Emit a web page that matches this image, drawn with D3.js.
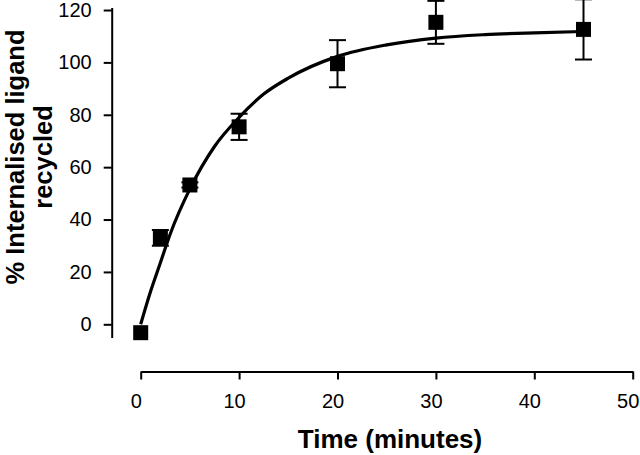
<!DOCTYPE html>
<html>
<head>
<meta charset="utf-8">
<script src="https://cdn.jsdelivr.net/npm/d3@7"></script>
<style>
  html, body { margin: 0; padding: 0; background: #fff; }
  svg { display: block; }
  text { font-family: "Liberation Sans", Arial, Helvetica, sans-serif; fill: #000; }
</style>
</head>
<body>
<svg id="chart" width="640" height="455"></svg>
<script>
// Measured data (time in minutes, % internalised ligand recycled)
const times = [0, 2, 5, 10, 20, 30, 45];
const means = [-3.2, 33, 53.2, 75.4, 99.5, 115.3, 112.6];
const errors = [0, 3, 1, 5, 9, 8.2, 11.5];

// Fitted curve
const curveTimes = [0, 1, 2, 3, 5, 7.5, 10, 12.5, 15, 20, 25, 30, 35, 40, 45];
const curveValues = [0, 12.5, 23.5, 34.5, 51.7, 67.9, 79, 87.9, 94, 102.3, 106.7, 109.3, 110.6, 111.3, 111.8];

const xTicks = [0, 10, 20, 30, 40, 50];
const yTicks = [0, 20, 40, 60, 80, 100, 120];
const xTitle = "Time (minutes)";
const yTitleLines = ["% Internalised ligand", "recycled"];

const svg = d3.select("#chart");
svg.append("rect").attr("width", 640).attr("height", 455).attr("fill", "#fff");

const x = d3.scaleLinear().domain([0, 50]).range([140.7, 632.7]);
const y = d3.scaleLinear().domain([-5, 121]).range([337.4, 7.4]);

// Y axis
const yAxis = svg.append("g")
  .attr("transform", "translate(111.7,0)")
  .call(d3.axisLeft(y).tickValues(yTicks).tickSize(8).tickSizeOuter(0).tickPadding(12));
yAxis.select(".domain").attr("stroke", "#000").attr("stroke-width", 2);
yAxis.selectAll(".tick line").attr("stroke", "#000").attr("stroke-width", 2);
yAxis.selectAll(".tick text")
  .attr("font-size", 20)
  .attr("font-family", "'Liberation Sans', Arial, Helvetica, sans-serif")
  .attr("fill", "#000");

// X axis
const xAxis = svg.append("g")
  .attr("transform", "translate(0,371.5)")
  .call(d3.axisBottom(x).tickValues(xTicks).tickSize(8).tickSizeOuter(0).tickPadding(14));
xAxis.select(".domain").attr("stroke", "#000").attr("stroke-width", 2);
xAxis.selectAll(".tick line").attr("stroke", "#000").attr("stroke-width", 2);
xAxis.selectAll(".tick text")
  .attr("font-size", 20)
  .attr("dx", -5)
  .attr("font-family", "'Liberation Sans', Arial, Helvetica, sans-serif")
  .attr("fill", "#000");

// Titles
svg.append("text")
  .attr("x", 390).attr("y", 448)
  .attr("text-anchor", "middle")
  .attr("font-size", 26).attr("font-weight", "bold")
  .text(xTitle);

const yT = svg.append("text")
  .attr("transform", "translate(0,157) rotate(-90)")
  .attr("text-anchor", "middle")
  .attr("font-size", 25.5).attr("font-weight", "bold");
yT.selectAll("tspan").data(yTitleLines).join("tspan")
  .attr("x", 0)
  .attr("y", (d, i) => i === 0 ? 23.5 : 51.5)
  .text(d => d);

// Fitted curve
const curveData = curveTimes.map((t, i) => ({ t, v: curveValues[i] }));
svg.append("path")
  .datum(curveData)
  .attr("fill", "none")
  .attr("stroke", "#000")
  .attr("stroke-width", 3.2)
  .attr("d", d3.line().x(d => x(d.t)).y(d => y(d.v)).curve(d3.curveMonotoneX));

// Error bars and markers
const pts = times.map((t, i) => ({ t, m: means[i], e: errors[i] }));
const eb = svg.append("g").attr("stroke", "#000").attr("stroke-width", 2);
pts.filter(d => d.e > 0).forEach(d => {
  eb.append("line").attr("x1", x(d.t)).attr("x2", x(d.t)).attr("y1", y(d.m - d.e)).attr("y2", y(d.m + d.e));
  [d.m - d.e, d.m + d.e].forEach(v => {
    eb.append("line").attr("x1", x(d.t) - 8.5).attr("x2", x(d.t) + 8.5).attr("y1", y(v)).attr("y2", y(v));
  });
});

const size = 15;
svg.append("g").selectAll("rect").data(pts).join("rect")
  .attr("x", d => x(d.t) - size / 2)
  .attr("y", d => y(d.m) - size / 2)
  .attr("width", size).attr("height", size)
  .attr("fill", "#000");
</script>
</body>
</html>
